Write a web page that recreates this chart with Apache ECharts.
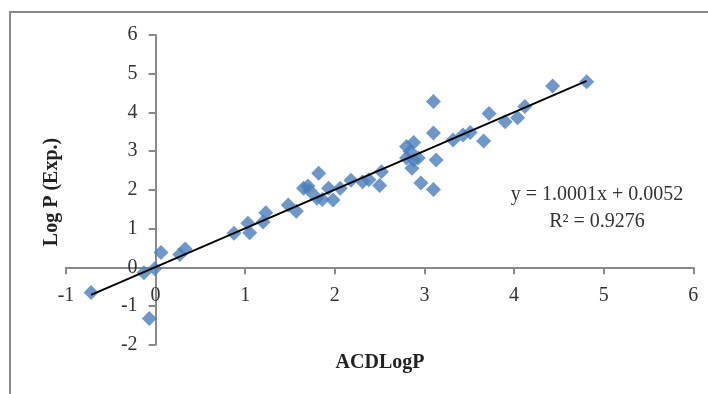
<!DOCTYPE html>
<html>
<head>
<meta charset="utf-8">
<script src="https://cdn.jsdelivr.net/npm/echarts@6/dist/echarts.min.js"></script>
<style>
html,body{margin:0;padding:0;background:#fff;}
#chart{width:708px;height:394px;}
</style>
</head>
<body>
<div id="chart"></div>
<script>
// ACDLogP (x) values
const acdLogP = [
  -0.72, -0.13, -0.07, -0.01, 0.06, 0.27, 0.33,
  0.875, 1.03, 1.05, 1.20, 1.23, 1.48, 1.57,
  1.65, 1.70, 1.72, 1.82, 1.80, 1.86, 1.93, 1.98, 2.06,
  2.18, 2.31, 2.38, 2.50, 2.52,
  2.80, 2.88, 2.84, 2.80, 2.88, 2.93, 2.86, 2.96,
  3.10, 3.10, 3.13, 3.10,
  3.32, 3.43, 3.51, 3.66, 3.72, 3.90, 4.04, 4.12, 4.43, 4.81
];
// Log P (Exp.) values
const logPExp = [
  -0.65, -0.14, -1.32, -0.04, 0.38, 0.33, 0.47,
  0.88, 1.14, 0.89, 1.17, 1.41, 1.61, 1.45,
  2.04, 2.10, 1.98, 2.43, 1.78, 1.75, 2.04, 1.74, 2.04,
  2.25, 2.21, 2.26, 2.11, 2.47,
  3.12, 3.22, 2.99, 2.82, 2.77, 2.82, 2.56, 2.18,
  4.28, 3.47, 2.77, 2.01,
  3.29, 3.42, 3.48, 3.26, 3.97, 3.76, 3.86, 4.15, 4.68, 4.79
];
// Linear trendline coefficients
const slope = 1.0001;
const intercept = 0.0052;
const eqLines = ['y = 1.0001x + 0.0052', 'R² = 0.9276'];
const xTitle = 'ACDLogP';
const yTitle = 'Log P (Exp.)';

const points = acdLogP.map((x, i) => [x, logPExp[i]]);
const xMin = Math.min(...acdLogP), xMax = Math.max(...acdLogP);
const trend = [[xMin, slope * xMin + intercept], [xMax, slope * xMax + intercept]];

const FONT = '"Liberation Serif", "Times New Roman", serif';
const AXIS_COLOR = '#8a8a8a';
function axisCommon() {
  return {
    axisLine: {show: true, onZero: false, lineStyle: {color: AXIS_COLOR, width: 2}},
    axisTick: {show: true, length: 7, lineStyle: {color: AXIS_COLOR, width: 2}},
    axisLabel: {margin: 18, fontFamily: FONT, fontSize: 20, color: '#333'},
    splitLine: {show: false}
  };
}
const GRID = {left: 66, right: 14.7, top: 35, bottom: 49.3};
const chart = echarts.init(document.getElementById('chart'), null, {renderer: 'canvas'});
chart.setOption({
  animation: false,
  backgroundColor: '#ffffff',
  grid: GRID,
  xAxis: Object.assign({type: 'value', min: -1, max: 6, interval: 1, position: 'bottom'}, axisCommon()),
  yAxis: Object.assign({type: 'value', min: -2, max: 6, interval: 1, position: 'left'}, axisCommon()),
  series: [
    {
      type: 'scatter', data: points, symbol: 'diamond', symbolSize: 15,
      itemStyle: {color: '#4a7ebb'}, z: 2
    },
    {
      type: 'line', data: trend, symbol: 'none',
      lineStyle: {color: '#000', width: 2}, z: 3
    }
  ],
  graphic: [
    {type: 'polyline', shape: {points: [[10, 394], [10, 12], [708, 12]]},
     style: {fill: 'none', stroke: '#8a8a8a', lineWidth: 2}, silent: true},
    {type: 'text', x: 52, y: 192, rotation: Math.PI / 2,
     style: {text: yTitle, font: 'bold 20px ' + FONT, fill: '#222', textAlign: 'center', textVerticalAlign: 'middle'}},
    {type: 'text', x: 380, y: 363,
     style: {text: xTitle, font: 'bold 20px ' + FONT, fill: '#222', textAlign: 'center', textVerticalAlign: 'middle'}},
    {type: 'text', x: 597, y: 195,
     style: {text: eqLines[0], font: '20px ' + FONT, fill: '#333', textAlign: 'center', textVerticalAlign: 'middle'}},
    {type: 'text', x: 597, y: 222,
     style: {text: eqLines[1], font: '20px ' + FONT, fill: '#333', textAlign: 'center', textVerticalAlign: 'middle'}}
  ]
});
// Move the axes so they cross at the origin (0, 0), as in the reference
const origin = chart.convertToPixel({gridIndex: 0}, [0, 0]);
const gridRect = chart.getModel().getComponent('grid', 0).coordinateSystem.getRect();
chart.setOption({
  xAxis: {offset: origin[1] - (gridRect.y + gridRect.height)},
  yAxis: {offset: gridRect.x - origin[0]}
});
</script>
</body>
</html>
